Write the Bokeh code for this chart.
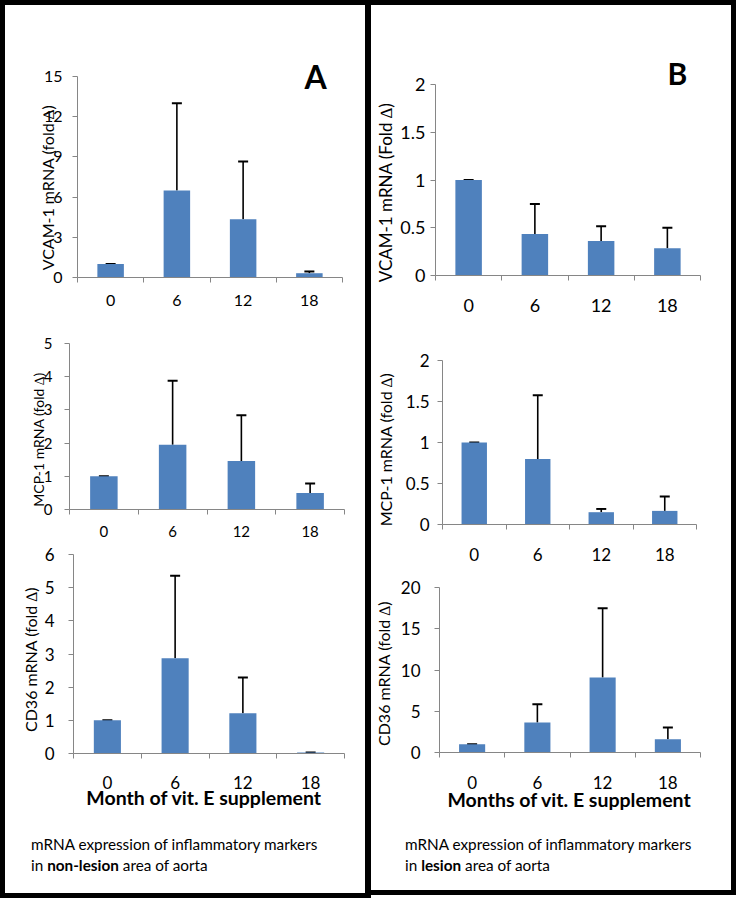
from bokeh.plotting import figure
from bokeh.models import (Range1d, FixedTicker, NumeralTickFormatter, ColumnDataSource,
                          Whisker, TeeHead, Label, Div, LinearAxis, Grid)
from bokeh.layouts import column, row
from bokeh.embed import file_html
from bokeh.resources import INLINE

# ---------------- data ----------------
months = ["0", "6", "12", "18"]

a_vcam = [1.0, 6.5, 4.35, 0.32]
a_vcam_err = [0.0, 6.5, 4.3, 0.13]
a_mcp = [1.0, 1.95, 1.46, 0.5]
a_mcp_err = [0.0, 1.93, 1.38, 0.28]
a_cd36 = [1.0, 2.87, 1.21, 0.03]
a_cd36_err = [0.0, 2.49, 1.08, 0.0]

b_vcam = [1.0, 0.435, 0.36, 0.285]
b_vcam_err = [0.0, 0.315, 0.155, 0.215]
b_mcp = [1.0, 0.8, 0.15, 0.166]
b_mcp_err = [0.0, 0.775, 0.04, 0.174]
b_cd36 = [1.0, 3.64, 9.1, 1.6]
b_cd36_err = [0.0, 2.22, 8.4, 1.43]

a_vcam_ticks = [0, 3, 6, 9, 12, 15]
a_mcp_ticks = [0, 1, 2, 3, 4, 5]
a_cd36_ticks = [0, 1, 2, 3, 4, 5, 6]
b_vcam_ticks = [0, 0.5, 1, 1.5, 2]
b_mcp_ticks = [0, 0.5, 1, 1.5, 2]
b_cd36_ticks = [0, 5, 10, 15, 20]

BAR = "#4F81BD"
AXIS = "#868686"
FONT = "Lato"


def make_plot(values, errs, yticks, ytitle, W, H, box, tick_size, ystand, xstand,
              title_c, title_size, xlabel=None, xlabel_c=None, letter=None):
    """box = (left, right, top, bottom) pixel edges of the axis area inside the figure."""
    bl, br, bt, bb = box
    n = len(months)
    ymax = yticks[-1]
    xu = n / (br - bl)
    yu = ymax / (bb - bt)

    def dx(px):
        return -0.5 + (px - bl) * xu

    def dy(py):
        return (bb - py) * yu

    p = figure(width=W, height=H, output_backend="svg", toolbar_location=None,
               x_range=Range1d(dx(0), dx(W)), y_range=Range1d(dy(H), dy(0)),
               x_axis_location=None, y_axis_location=None,
               min_border=0, min_border_left=0, min_border_right=0,
               min_border_top=0, min_border_bottom=0, margin=0)
    p.outline_line_color = None
    p.background_fill_color = "white"
    p.border_fill_color = "white"
    for r in list(p.center):
        if isinstance(r, Grid):
            r.visible = False
            r.grid_line_color = None

    xs = list(range(n))
    src = ColumnDataSource(dict(x=xs, top=values,
                                upper=[v + e for v, e in zip(values, errs)]))
    p.vbar(x="x", top="top", bottom=0, width=0.4, source=src,
           fill_color=BAR, line_color=None)
    p.add_layout(Whisker(source=src, base="x", lower="top", upper="upper",
                         dimension="height", line_color="black", line_width=1.6,
                         lower_head=None,
                         upper_head=TeeHead(size=10, line_color="black", line_width=2)))

    xa = LinearAxis(fixed_location=0, bounds=(-0.5, n - 0.5),
                    ticker=FixedTicker(ticks=xs, minor_ticks=[i - 0.5 for i in range(n + 1)]),
                    major_label_overrides={i: m for i, m in enumerate(months)})
    xa.major_tick_out = 0
    xa.major_tick_in = 0
    xa.minor_tick_out = 5
    xa.minor_tick_in = 0
    xa.minor_tick_line_color = AXIS
    xa.axis_line_color = AXIS
    xa.major_label_text_font = FONT
    xa.major_label_text_font_size = tick_size
    xa.major_label_text_color = "black"
    xa.major_label_standoff = xstand
    p.add_layout(xa, "below")

    ya = LinearAxis(fixed_location=-0.5, bounds=(yticks[0], ymax),
                    ticker=FixedTicker(ticks=yticks),
                    formatter=NumeralTickFormatter(format="0.[0]"))
    ya.major_tick_out = 5
    ya.major_tick_in = 0
    ya.minor_tick_line_color = None
    ya.axis_line_color = AXIS
    ya.major_tick_line_color = AXIS
    ya.major_label_text_font = FONT
    ya.major_label_text_font_size = tick_size
    ya.major_label_text_color = "black"
    ya.major_label_standoff = ystand
    p.add_layout(ya, "left")

    p.add_layout(Label(x=dx(title_c[0]), y=dy(title_c[1]), text=ytitle, angle=90,
                       angle_units="deg", text_font=FONT, text_font_size=title_size,
                       text_color="black", text_align="center", text_baseline="middle"))
    if xlabel:
        p.add_layout(Label(x=dx(xlabel_c[0]), y=dy(xlabel_c[1]), text=xlabel,
                           text_font=FONT, text_font_style="bold", text_font_size="19.5px",
                           text_color="black", text_align="center", text_baseline="middle"))
    if letter:
        txt, (lx, ly), size = letter
        p.add_layout(Label(x=dx(lx), y=dy(ly), text=txt, text_font=FONT,
                           text_font_style="bold", text_font_size=size, text_color="black",
                           text_align="center", text_baseline="middle"))
    return p


def bar_div(w, h):
    return Div(text="", width=w, height=h, margin=0,
               styles={"background-color": "black"})


def caption(html, w, h, pad_left):
    return Div(text=html, width=w, height=h, margin=0,
               styles={"font-family": FONT, "font-size": "15.3px", "line-height": "21px",
                       "padding-top": "17px", "padding-left": f"{pad_left}px",
                       "color": "black", "box-sizing": "border-box",
                       "background-color": "white"})


# ---------------- panel A (non-lesion) ----------------
pA1 = make_plot(a_vcam, a_vcam_err, a_vcam_ticks, "VCAM-1 mRNA (fold \u2206)",
                360, 312, (72, 337, 71, 272), "16px", 10, 12, (42, 182), "16px",
                letter=("A", (310, 71), "32px"))
pA2 = make_plot(a_mcp, a_mcp_err, a_mcp_ticks, "MCP-1 mRNA (fold \u2206)",
                360, 223, (64, 339, 26, 192), "15px", 12, 11, (33, 122), "14px")
pA3 = make_plot(a_cd36, a_cd36_err, a_cd36_ticks, "CD36 mRNA (fold \u2206)",
                360, 277, (68, 339, 14, 213), "17px", 14, 17, (25, 119), "16px",
                xlabel="Month of  vit. E supplement", xlabel_c=(201, 257))
capA = caption("mRNA expression of inflammatory markers<br>in <b>non-lesion</b> area of aorta",
               360, 76, 26)

# ---------------- panel B (lesion) ----------------
pB1 = make_plot(b_vcam, b_vcam_err, b_vcam_ticks, "VCAM-1 mRNA (Fold \u2206)",
                360, 317, (64, 329, 79, 270), "18px", 5, 18, (14, 187), "17px",
                letter=("B", (306, 67), "30px"))
pB2 = make_plot(b_mcp, b_mcp_err, b_mcp_ticks, "MCP-1 mRNA (fold \u2206)",
                360, 245, (71, 325, 38, 202), "17px", 8, 18, (14, 127), "16px")
pB3 = make_plot(b_cd36, b_cd36_err, b_cd36_ticks, "CD36 mRNA (fold \u2206)",
                360, 250, (68, 329, 20, 185), "17px", 14, 18, (12, 106), "16px",
                xlabel="Months of vit. E supplement", xlabel_c=(198, 232))
capB = caption("mRNA expression of inflammatory markers<br>in <b>lesion</b> area of aorta",
               360, 73, 34)

left_panel = column(bar_div(360, 5), pA1, pA2, pA3, capA, bar_div(360, 5), spacing=0)
right_panel = column(bar_div(360, 5), pB1, pB2, pB3, capB, bar_div(360, 5), spacing=0)
page = row(bar_div(5, 898), left_panel, bar_div(6, 898), right_panel, bar_div(5, 895),
           spacing=0)

open("out.html", "w").write(file_html(page, INLINE))
